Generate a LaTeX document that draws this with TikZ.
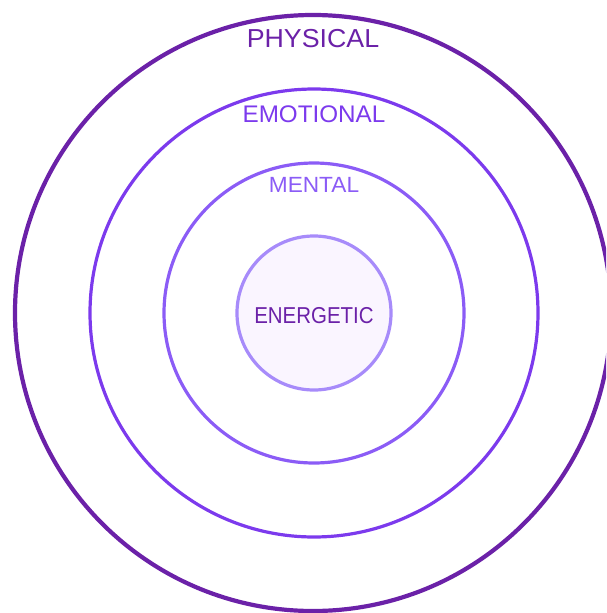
\documentclass[tikz,border=0pt]{standalone}
\usepackage{fontspec}
\setmainfont{Liberation Sans}
\definecolor{cphys}{HTML}{6B21A8}
\definecolor{cemo}{HTML}{7C3AED}
\definecolor{cment}{HTML}{8B5CF6}
\definecolor{cener}{HTML}{A78BFA}
\definecolor{cfill}{HTML}{FAF5FF}
\tikzset{
  ring/.style={circle, draw, inner sep=0pt, line width=3.2pt},
  lbl/.style={inner sep=0pt, font=\fontsize{#1}{#1}\selectfont},
}
\begin{document}
\begin{tikzpicture}[x=1pt,y=-1pt]
\useasboundingbox (0,0) rectangle (606,613);
\clip (0,0) rectangle (606,613);
\node[ring, draw=cphys, line width=4.2pt, minimum size=596pt] (physical) at (313,313) {};
\node[ring, draw=cemo, minimum size=448pt] (emotional) at (314,313) {};
\node[ring, draw=cment, minimum size=300pt] (mental) at (314,313) {};
\node[ring, draw=cener, fill=cfill, minimum size=154pt] (energetic) at (314,313) {};
\node[lbl=26, text=cphys] (tphys) at (313,39) {\scalebox{1.03}[1]{PHYSICAL}};
\node[lbl=24, text=cemo] (temo) at (314,114) {\scalebox{1.01}[1]{EMOTIONAL}};
\node[lbl=22, text=cment] (tment) at (314,185) {\scalebox{1.03}[1]{MENTAL}};
\node[lbl=23, text=cphys] (tener) at (314,316) {\scalebox{0.89}[1]{ENERGETIC}};
\end{tikzpicture}
\end{document}
